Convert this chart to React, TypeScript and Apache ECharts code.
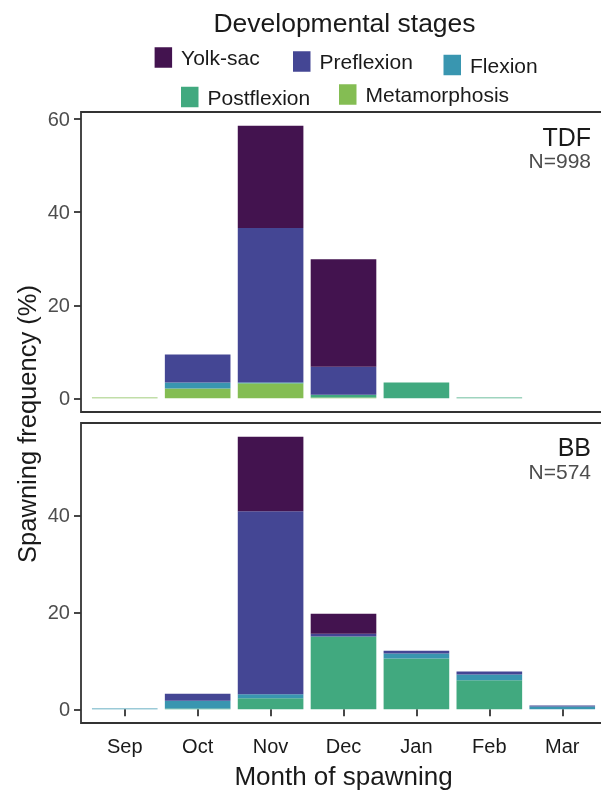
import React, { useEffect, useRef } from "react";
import * as echarts from "echarts";

// Month of spawning (x categories)
const months = ["Sep", "Oct", "Nov", "Dec", "Jan", "Feb", "Mar"];

// Developmental stages, listed from the bottom of each stack to the top
const stages = ["Metamorphosis", "Postflexion", "Flexion", "Preflexion", "Yolk-sac"];
const stageColors = ["#84BD53", "#41A97F", "#3996B0", "#444694", "#43134F"];

// Legend order (as printed above the panels)
const legendOrder = ["Yolk-sac", "Preflexion", "Flexion", "Postflexion", "Metamorphosis"];

// TDF spawning frequency (%) by stage
const tdfMetamorphosis = [0.2, 2.1, 3.2, 0.2, 0, 0, 0];
const tdfPostflexion = [0, 0, 0.1, 0.6, 3.4, 0.2, 0];
const tdfFlexion = [0, 1.3, 0.1, 0, 0, 0, 0];
const tdfPreflexion = [0, 6.0, 33.2, 6.0, 0, 0, 0];
const tdfYolkSac = [0, 0, 22.0, 23.1, 0, 0, 0];

// BB spawning frequency (%) by stage
const bbMetamorphosis = [0, 0, 0, 0, 0, 0, 0];
const bbPostflexion = [0, 0.2, 2.3, 15.0, 10.5, 6.0, 0];
const bbFlexion = [0.2, 1.6, 0.8, 0, 1.0, 1.2, 0.6];
const bbPreflexion = [0, 1.4, 37.7, 0.6, 0.6, 0.6, 0.2];
const bbYolkSac = [0, 0, 15.4, 4.1, 0, 0, 0];

// Y tick labels per panel
const tdfTicks = [0, 20, 40, 60];
const bbTicks = [0, 20, 40];

// Panel annotations
const tdfLabel = "TDF";
const tdfN = "N=998";
const bbLabel = "BB";
const bbN = "N=574";

const FONT = "'Liberation Sans', Arial, Helvetica, sans-serif";
const INK = "#1a1a1a";
const GREY = "#4d4d4d";
const FRAME = "#333333";

// Panel geometry
const PANEL_LEFT = 81;
const PANEL_W = 525;
const PANEL_H = 300;
const PANEL_TOPS = [112, 423];
// discrete scale padded by 0.6 of a category on both ends
const BAND = PANEL_W / (months.length - 1 + 1.2);
const INSET = BAND * 0.1;

function axisRange(stacks: number[][]) {
  const totals = months.map((_, i) => stacks.reduce((s, arr) => s + arr[i], 0));
  const m = Math.max(...totals);
  return { min: -0.05 * m, max: 1.05 * m };
}

export default function App() {
  const ref = useRef<HTMLDivElement>(null);

  useEffect(() => {
    if (!ref.current) return;
    const chart = echarts.init(ref.current, null, { renderer: "svg" });

    const tdf = [tdfMetamorphosis, tdfPostflexion, tdfFlexion, tdfPreflexion, tdfYolkSac];
    const bb = [bbMetamorphosis, bbPostflexion, bbFlexion, bbPreflexion, bbYolkSac];
    const panels = [tdf, bb];
    const ticks = [tdfTicks, bbTicks];

    const grids = PANEL_TOPS.map((top) => ({
      left: PANEL_LEFT + INSET,
      top,
      width: PANEL_W - 2 * INSET,
      height: PANEL_H,
      containLabel: false,
    }));

    const xAxes = panels.map((_, p) => ({
      type: "category",
      gridIndex: p,
      data: months,
      boundaryGap: true,
      show: p === 1,
      axisLine: { show: false },
      axisTick: {
        show: p === 1,
        alignWithLabel: true,
        length: 7,
        lineStyle: { color: FRAME, width: 1.8 },
      },
      axisLabel: {
        show: p === 1,
        margin: 13,
        fontSize: 20,
        color: INK,
        fontFamily: FONT,
      },
      name: p === 1 ? "Month of spawning" : "",
      nameLocation: "middle",
      nameGap: 40,
      nameTextStyle: { fontSize: 26, color: INK, fontFamily: FONT },
    }));

    const yAxes = panels.map((stack, p) => {
      const r = axisRange(stack);
      return {
        type: "value",
        gridIndex: p,
        min: r.min,
        max: r.max,
        offset: INSET,
        splitLine: { show: false },
        axisLine: { show: false, onZero: false },
        axisTick: {
          show: true,
          length: 7,
          customValues: ticks[p],
          lineStyle: { color: FRAME, width: 1.8 },
        },
        axisLabel: {
          customValues: ticks[p],
          margin: 11,
          fontSize: 20,
          color: GREY,
          fontFamily: FONT,
        },
      };
    });

    const series: any[] = [];
    panels.forEach((stack, p) => {
      stack.forEach((values, s) => {
        series.push({
          type: "bar",
          name: stages[s],
          xAxisIndex: p,
          yAxisIndex: p,
          stack: "panel" + p,
          barWidth: "90%",
          data: values,
          itemStyle: { color: stageColors[s] },
          emphasis: { disabled: true },
        });
      });
    });

    // one legend block per entry so each key can sit where it is printed
    const legendSpots = [
      { left: 154.6, top: 47 },
      { left: 293, top: 51 },
      { left: 443.5, top: 54.5 },
      { left: 181, top: 86.5 },
      { left: 339, top: 84 },
    ];
    const legends = legendOrder.map((name, i) => ({
      data: [name],
      left: legendSpots[i].left,
      top: legendSpots[i].top,
      orient: "horizontal",
      padding: 0,
      icon: "rect",
      itemWidth: 17.5,
      itemHeight: 20.5,
      selectedMode: false,
      textStyle: { fontSize: 21, color: INK, fontFamily: FONT, padding: [0, 0, 0, 4] },
    }));

    const frames = PANEL_TOPS.map((top) => ({
      type: "rect",
      shape: { x: PANEL_LEFT, y: top, width: PANEL_W, height: PANEL_H },
      style: { fill: "none", stroke: FRAME, lineWidth: 1.8 },
      z: 10,
    }));

    const text = (t: string, x: number, y: number, size: number, color: string, align = "right", extra: any = {}) => ({
      type: "text",
      x,
      y,
      ...extra,
      style: {
        text: t,
        fill: color,
        font: `${size}px ${FONT}`,
        lineHeight: Math.round(size * 0.85),
        align,
        verticalAlign: "middle",
      },
      z: 20,
    });

    chart.setOption({
      animation: false,
      textStyle: { fontFamily: FONT },
      grid: grids,
      xAxis: xAxes,
      yAxis: yAxes,
      legend: legends,
      series,
      graphic: [
        ...frames,
        text("Developmental stages", 344.5, 23, 26.5, INK, "center"),
        text("Spawning frequency (%)", 27, 424, 25.5, INK, "center", { rotation: Math.PI / 2 }),
        text(tdfLabel, 591, 137, 25, INK),
        text(tdfN, 591, 160, 21, GREY),
        text(bbLabel, 591, 447, 25, INK),
        text(bbN, 591, 471, 21, GREY),
      ],
    });

    return () => chart.dispose();
  }, []);

  return (
    <div
      ref={ref}
      style={{ position: "fixed", left: 0, top: 0, width: 610, height: 793 }}
    />
  );
}
